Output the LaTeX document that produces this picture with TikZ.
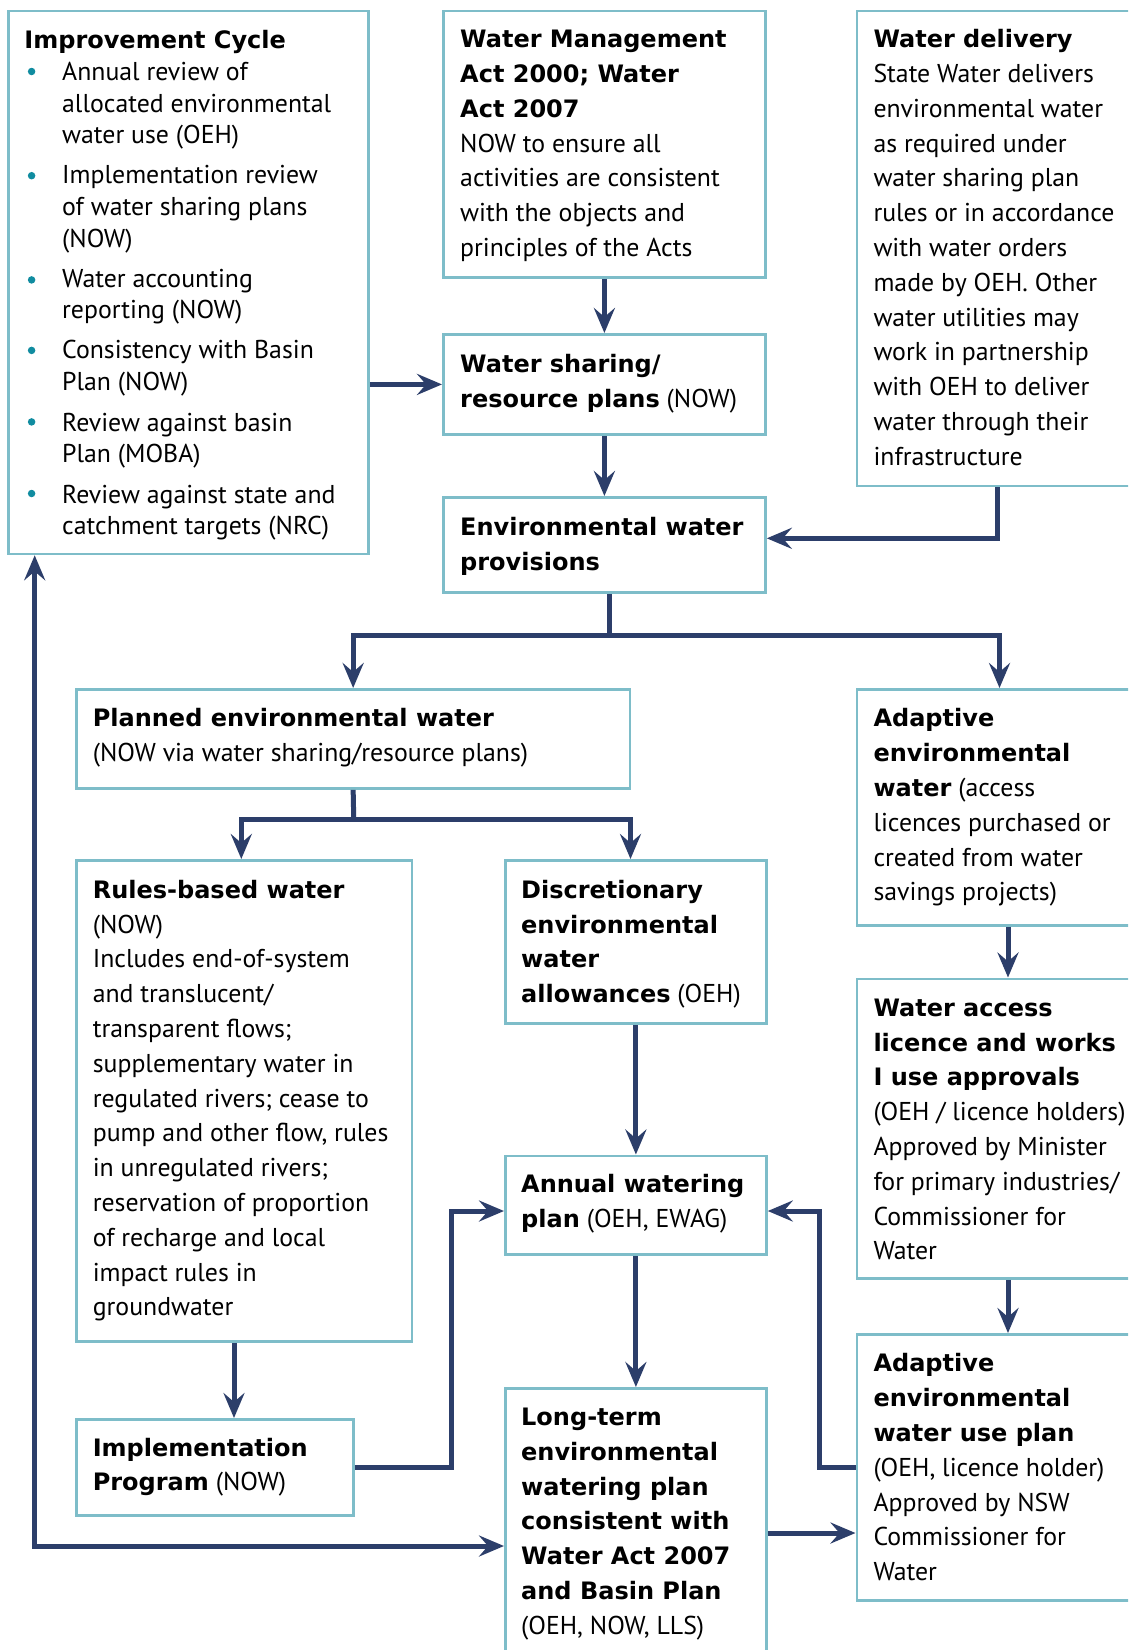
\documentclass[tikz,border=0pt]{standalone}
\usepackage{fontspec}
\setmainfont{PT Sans}
\newfontfamily\bff{DejaVu Sans}[Scale=0.9302]
\usetikzlibrary{arrows.meta}
\definecolor{bord}{RGB}{126,189,201}
\definecolor{arrc}{RGB}{44,62,106}
\definecolor{bul}{RGB}{16,140,160}
\newcommand\fs{\fontsize{25.8}{34.8}\selectfont}
\newcommand\fsl{\fontsize{25.8}{31.6}\selectfont}
\newcommand\st{\rule{0pt}{22pt}}
\newcommand\B[1]{{\bff\bfseries #1}}
\begin{document}
\begin{tikzpicture}[x=1pt,y=-1pt,
 box/.style={draw=bord, line width=2.8pt, inner sep=0pt, anchor=north west, xshift=-1pt, yshift=1pt},
 txt/.style={anchor=north west, inner sep=0pt, align=left, font=\fs, text=black},
 dot/.style={circle, fill=bul, inner sep=0pt, minimum size=7.5pt},
 tip/.tip={Stealth[length=25pt,width=21pt,inset=9pt]},
 flow/.style={draw=arrc, line width=5pt, -tip},
 line/.style={draw=arrc, line width=5pt},
 ]
\clip (0,0) rectangle (1128,1650);
\fill[white] (0,0) rectangle (1128,1650);
% boxes
\node[box, minimum width=359.6pt, minimum height=543pt] (imp) at (8.4,10.5) {};
\node[box, minimum width=322pt, minimum height=266.5pt] (act) at (443,10.5) {};
\node[box, minimum width=283.5pt, minimum height=475pt] (wd) at (856.5,10.5) {};
\node[box, minimum width=322pt, minimum height=100pt] (ws) at (443,334) {};
\node[box, minimum width=322pt, minimum height=95pt] (ep) at (443,497) {};
\node[box, minimum width=553.5pt, minimum height=99pt] (pl) at (76,689) {};
\node[box, minimum width=283.5pt, minimum height=236pt] (ad) at (856.5,689) {};
\node[box, minimum width=335.5pt, minimum height=481pt] (rb) at (76,860) {};
\node[box, minimum width=261pt, minimum height=163pt] (de) at (505,860) {};
\node[box, minimum width=283.5pt, minimum height=299.5pt] (wa) at (856.5,978.5) {};
\node[box, minimum width=261pt, minimum height=98.5pt] (an) at (505,1155.5) {};
\node[box, minimum width=277pt, minimum height=96pt] (im) at (76,1419) {};
\node[box, minimum width=261pt, minimum height=280pt] (lt) at (505,1388) {};
\node[box, minimum width=283.5pt, minimum height=266pt] (ap) at (856.5,1334) {};
% texts
\node[txt] (t1) at (24.2,26.3) {\st\B{Improvement Cycle}};
\node[txt, font=\fsl] (t1b) at (62,58.5) {\st Annual review of\\ allocated environmental\\ water use (OEH)\\[8.4pt]
Implementation review\\ of water sharing plans\\ (NOW)\\[8.4pt]
Water accounting\\ reporting (NOW)\\[8.6pt]
Consistency with Basin\\ Plan (NOW)\\[9pt]
Review against basin\\ Plan (MOBA)\\[9pt]
Review against state and\\ catchment targets (NRC)};
\node[dot] (d1) at (31.6,71.5) {};
\node[dot] (d2) at (31.6,175.7) {};
\node[dot] (d3) at (31.6,279.9) {};
\node[dot] (d4) at (31.6,350.4) {};
\node[dot] (d5) at (31.6,421.9) {};
\node[dot] (d6) at (31.6,493.5) {};
\node[txt] (t2) at (460,25.5) {\st\B{Water Management}\\ \B{Act 2000; Water}\\ \B{Act 2007}\\ NOW to ensure all\\ activities are consistent\\ with the objects and\\ principles of the Acts};
\node[txt] (t3) at (873.3,25.5) {\st\B{Water delivery}\\ State Water delivers\\ environmental water\\ as required under\\ water sharing plan\\ rules or in accordance\\ with water orders\\ made by OEH. Other\\ water utilities may\\ work in partnership\\ with OEH to deliver\\ water through their\\ infrastructure};
\node[txt] (t4) at (460,350) {\st\B{Water sharing/}\\ \B{resource plans} (NOW)};
\node[txt] (t5) at (460,513.1) {\st\B{Environmental water}\\ \B{provisions}};
\node[txt] (t6) at (92.6,704.6) {\st\B{Planned environmental water}\\ (NOW via water sharing/resource plans)};
\node[txt] (t7) at (873.3,704.6) {\st\B{Adaptive}\\ \B{environmental}\\ \B{water} (access\\ licences purchased or\\ created from water\\ savings projects)};
\node[txt] (t8) at (92.6,876.1) {\st\B{Rules-based water}\\ (NOW)\\ Includes end-of-system\\ and translucent/\\ transparent flows;\\ supplementary water in\\ regulated rivers; cease to\\ pump and other flow, rules\\ in unregulated rivers;\\ reservation of proportion\\ of recharge and local\\ impact rules in\\ groundwater};
\node[txt] (t9) at (521,876.1) {\st\B{Discretionary}\\ \B{environmental}\\ \B{water}\\ \B{allowances} (OEH)};
\node[txt] (t10) at (873.3,994) {\st\B{Water access}\\ \B{licence and works}\\ \B{I use approvals}\\ (OEH / licence holders)\\ Approved by Minister\\ for primary industries/\\ Commissioner for\\ Water};
\node[txt] (t11) at (521,1170.7) {\st\B{Annual watering}\\ \B{plan} (OEH, EWAG)};
\node[txt] (t12) at (92.6,1433.8) {\st\B{Implementation}\\ \B{Program} (NOW)};
\node[txt] (t13) at (521,1403.3) {\st\B{Long-term}\\ \B{environmental}\\ \B{watering plan}\\ \B{consistent with}\\ \B{Water Act 2007}\\ \B{and Basin Plan}\\ (OEH, NOW, LLS)};
\node[txt] (t14) at (873.3,1349.6) {\st\B{Adaptive}\\ \B{environmental}\\ \B{water use plan}\\ (OEH, licence holder)\\ Approved by NSW\\ Commissioner for\\ Water};
% helper coordinates
\coordinate (xwd) at (997.7,538.3);
\coordinate (j1) at (609.3,635.5);
\coordinate (xad) at (999.5,0);
\coordinate (j2) at (353.75,819.5);
\coordinate (xrb) at (241.3,0);
\coordinate (xde) at (630.5,0);
\coordinate (xr) at (1008,0);
\coordinate (xri) at (234,0);
\coordinate (k1) at (451.3,1211);
\coordinate (k2) at (819.7,1211);
\coordinate (k3) at (0,1533);
\coordinate (k4) at (34.7,1546);
% connectors
\draw[flow] (act) -- (ws);
\draw[flow] (ws) -- (ep);
\draw[flow] (imp.east |- ws.west) -- (ws.west);
\draw[flow] (wd.south -| xwd) |- (ep.east |- xwd);
\draw[line] (ep.south -| j1) -- (j1);
\draw[flow] (j1) -| (pl.north);
\draw[flow] (j1) -| (ad.north -| xad);
\draw[line] (pl.south) -- (j2);
\draw[flow] (j2) -| (rb.north -| xrb);
\draw[flow] (j2) -| (de.north -| xde);
\draw[flow] (ad.south -| xr) -- (wa.north -| xr);
\draw[flow] (wa.south -| xr) -- (ap.north -| xr);
\draw[flow] (de) -- (an);
\draw[flow] (an) -- (lt);
\draw[flow] (rb.south -| xri) -- (im.north -| xri);
\draw[flow] (im.east) -| (k1) -- (an.west |- k1);
\draw[flow] (ap.west) -| (k2) -- (an.east |- k2);
\draw[flow] (lt.east |- k3) -- (ap.west |- k3);
\draw[flow, tip-tip] (imp.south -| k4) |- (lt.west |- k4);
\end{tikzpicture}
\end{document}
